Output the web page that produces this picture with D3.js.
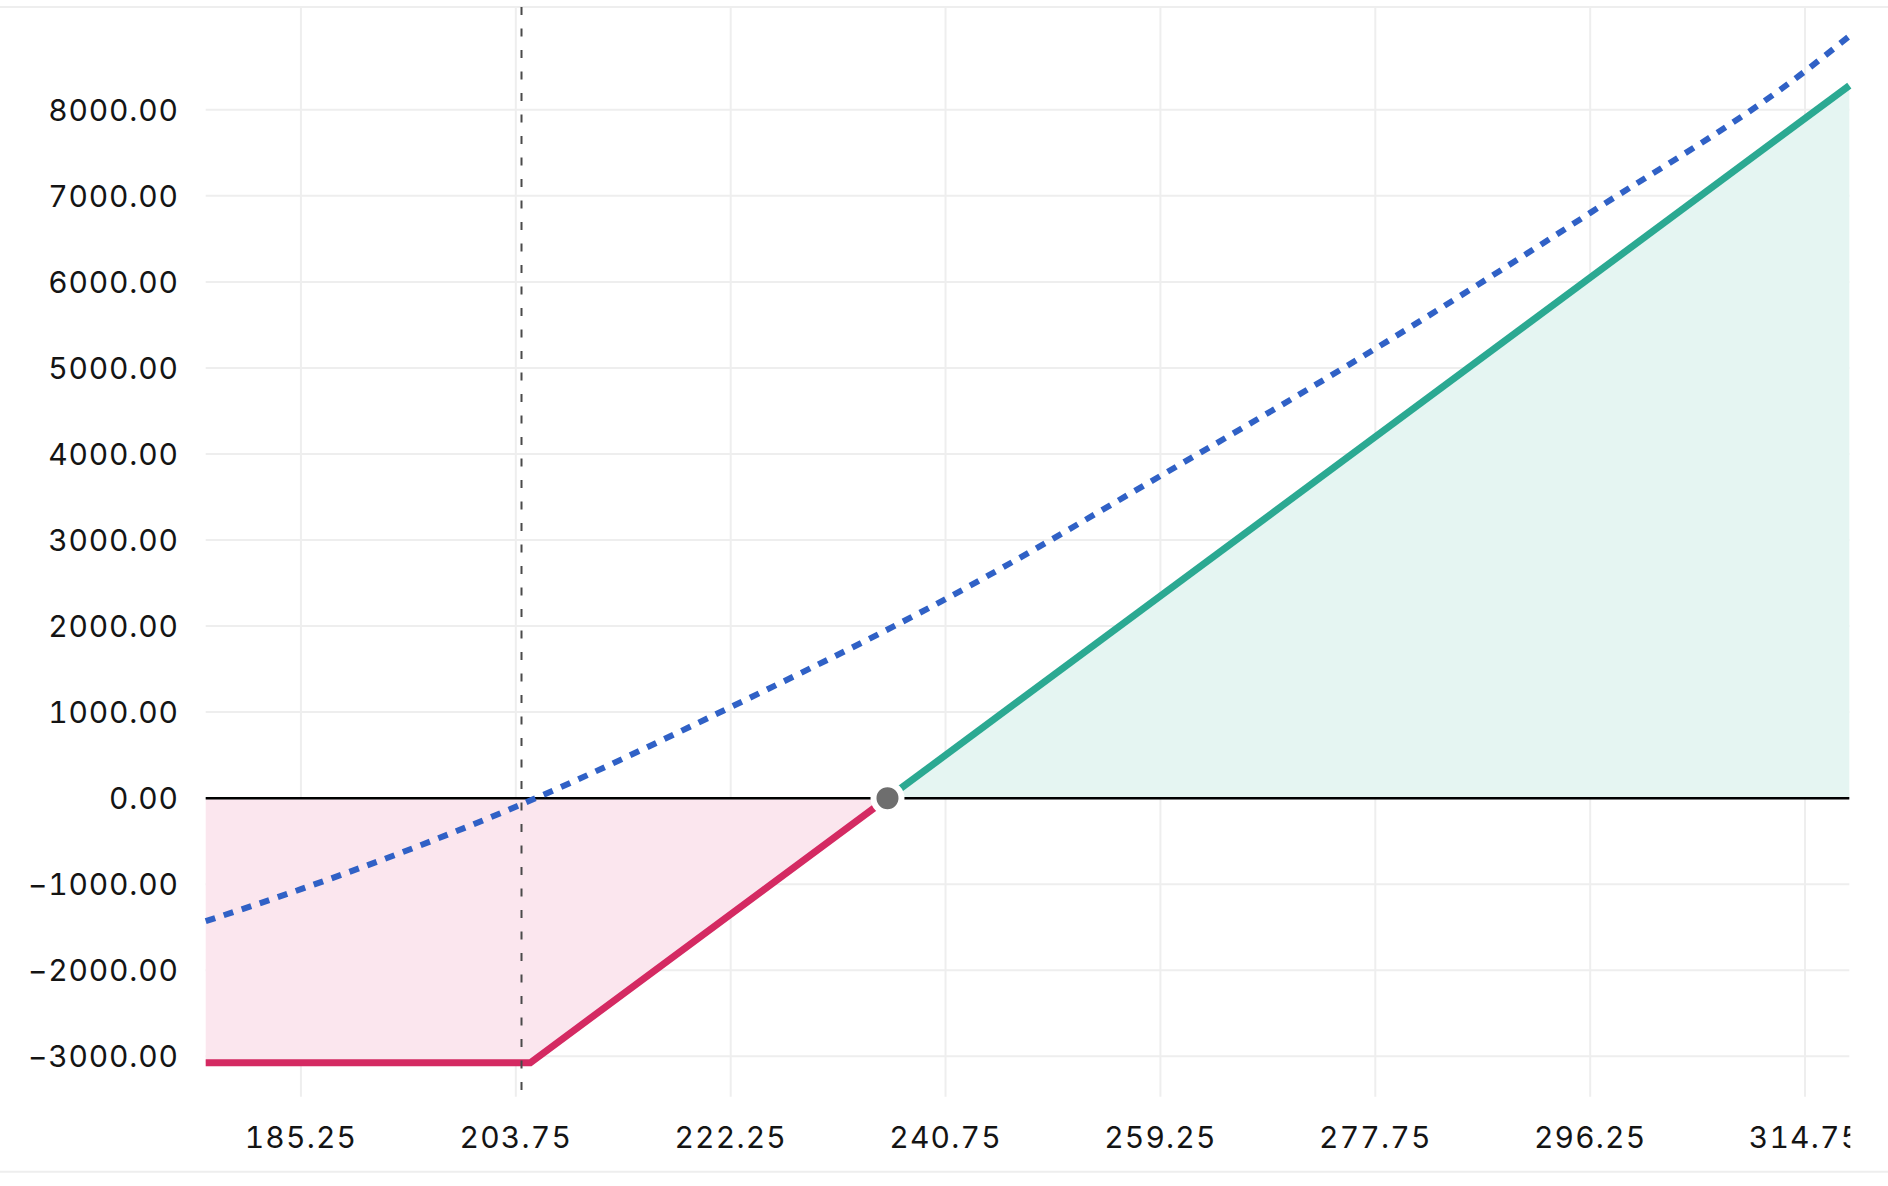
<!DOCTYPE html>
<html>
<head>
<meta charset="utf-8">
<script src="https://cdn.jsdelivr.net/npm/d3@7"></script>
<style>
  html, body { margin: 0; padding: 0; background: #fff; }
  #wrapper { width: 1888px; height: 1186px; }
  text { font-variant-numeric: tabular-nums; }
</style>
</head>
<body>
<div id="wrapper"></div>
<script>
// tick values shown on the axes
const xTicks = [185.25, 203.75, 222.25, 240.75, 259.25, 277.75, 296.25, 314.75]
const yTicks = [-3000, -2000, -1000, 0, 1000, 2000, 3000, 4000, 5000, 6000, 7000, 8000]

// P&L at expiration
const expiryPrices = [177.05, 205, 235.75, 318.56]
const expiryPnl = [-3075, -3075, 0, 8281]

// theoretical P&L today (dashed blue line)
const theoPrices = [177.05, 185.25, 203.75, 222.25, 240.75, 259.25, 277.75, 296.25, 314.75, 318.56]
const theoPnl = [-1430, -1058, -100, 1058, 2314, 3745, 5224, 6802, 8449, 8856]

const currentPrice = 204.24
const breakEven = 235.75

const xDomain = [177.05, 318.56]
const yDomain = [-3470, 9195]

function draw() {
  const dimensions = {
    width: 1888,
    height: 1186,
    margin: { top: 7, right: 38.7, bottom: 89.3, left: 205.7 }
  }
  dimensions.boundedWidth = dimensions.width - dimensions.margin.left - dimensions.margin.right
  dimensions.boundedHeight = dimensions.height - dimensions.margin.top - dimensions.margin.bottom

  const wrapper = d3.select('#wrapper')
    .append('svg')
    .attr('width', dimensions.width)
    .attr('height', dimensions.height)
    .style('font-family', 'Inter, "Open Sans", sans-serif')

  wrapper.append('rect')
    .attr('width', dimensions.width)
    .attr('height', dimensions.height)
    .attr('fill', '#fff')

  // container borders
  wrapper.append('line')
    .attr('x1', 0).attr('x2', dimensions.width)
    .attr('y1', 7).attr('y2', 7)
    .attr('stroke', '#eeeeee').attr('stroke-width', 2)
  wrapper.append('line')
    .attr('x1', 0).attr('x2', dimensions.width)
    .attr('y1', 1171.7).attr('y2', 1171.7)
    .attr('stroke', '#eeeeee').attr('stroke-width', 2)

  const bounds = wrapper.append('g')
    .attr('transform', `translate(${dimensions.margin.left}, ${dimensions.margin.top})`)

  const xScale = d3.scaleLinear()
    .domain(xDomain)
    .range([0, dimensions.boundedWidth])
  const yScale = d3.scaleLinear()
    .domain(yDomain)
    .range([dimensions.boundedHeight, 0])

  // grid
  bounds.append('g')
    .selectAll('line')
    .data(yTicks)
    .join('line')
    .attr('x1', 0)
    .attr('x2', dimensions.boundedWidth)
    .attr('y1', d => yScale(d))
    .attr('y2', d => yScale(d))
    .attr('stroke', '#eeeeee')
    .attr('stroke-width', 2)

  bounds.append('g')
    .selectAll('line')
    .data(xTicks)
    .join('line')
    .attr('x1', d => xScale(d))
    .attr('x2', d => xScale(d))
    .attr('y1', 0)
    .attr('y2', dimensions.boundedHeight)
    .attr('stroke', '#eeeeee')
    .attr('stroke-width', 2)

  const expiry = expiryPrices.map((p, i) => ({ x: p, y: expiryPnl[i] }))
  const lossPart = expiry.filter(d => d.x <= breakEven)
  const gainPart = expiry.filter(d => d.x >= breakEven)

  const area = d3.area()
    .x(d => xScale(d.x))
    .y0(yScale(0))
    .y1(d => yScale(d.y))

  bounds.append('path')
    .datum(lossPart)
    .attr('d', area)
    .attr('fill', '#fbe6ee')
  bounds.append('path')
    .datum(gainPart)
    .attr('d', area)
    .attr('fill', '#e5f5f2')

  // zero line
  bounds.append('line')
    .attr('x1', 0)
    .attr('x2', dimensions.boundedWidth)
    .attr('y1', yScale(0))
    .attr('y2', yScale(0))
    .attr('stroke', '#000')
    .attr('stroke-width', 2.5)

  // theoretical value line
  const theo = theoPrices.map((p, i) => ({ x: p, y: theoPnl[i] }))
  bounds.append('path')
    .datum(theo)
    .attr('d', d3.line()
      .x(d => xScale(d.x))
      .y(d => yScale(d.y))
      .curve(d3.curveMonotoneX))
    .attr('fill', 'none')
    .attr('stroke', '#3061c6')
    .attr('stroke-width', 6)
    .attr('stroke-dasharray', '10,9')

  const line = d3.line()
    .x(d => xScale(d.x))
    .y(d => yScale(d.y))

  bounds.append('path')
    .datum(lossPart)
    .attr('d', line)
    .attr('fill', 'none')
    .attr('stroke', '#d42a62')
    .attr('stroke-width', 7)
  bounds.append('path')
    .datum(gainPart)
    .attr('d', line)
    .attr('fill', 'none')
    .attr('stroke', '#2ba992')
    .attr('stroke-width', 7)

  // current price marker
  bounds.append('line')
    .attr('x1', xScale(currentPrice))
    .attr('x2', xScale(currentPrice))
    .attr('y1', 0)
    .attr('y2', dimensions.boundedHeight)
    .attr('stroke', '#4a4a4a')
    .attr('stroke-width', 2)
    .attr('stroke-dasharray', '8,13.5')

  // break-even dot
  bounds.append('circle')
    .attr('cx', xScale(breakEven))
    .attr('cy', yScale(0))
    .attr('r', 14)
    .attr('fill', '#6e6e6e')
    .attr('stroke', '#fff')
    .attr('stroke-width', 6)

  // y labels
  bounds.append('g')
    .selectAll('text')
    .data(yTicks)
    .join('text')
    .attr('x', -27)
    .attr('y', d => yScale(d))
    .attr('dy', '0.36em')
    .attr('text-anchor', 'end')
    .attr('fill', '#141414')
    .style('font-size', '30px')
    .style('letter-spacing', '0.8px')
    .text(d => d3.format('.2f')(d).replace('-', '\u2212'))

  // x labels, clipped at the plot's right edge
  wrapper.append('defs')
    .append('clipPath')
    .attr('id', 'xclip')
    .append('rect')
    .attr('x', -dimensions.margin.left)
    .attr('y', dimensions.boundedHeight)
    .attr('width', dimensions.margin.left + dimensions.boundedWidth + 1)
    .attr('height', 80)

  bounds.append('g')
    .attr('clip-path', 'url(#xclip)')
    .selectAll('text')
    .data(xTicks)
    .join('text')
    .attr('x', d => xScale(d))
    .attr('y', 1137 - dimensions.margin.top)
    .attr('dy', '0.36em')
    .attr('text-anchor', 'middle')
    .attr('fill', '#141414')
    .style('font-size', '30px')
    .style('letter-spacing', '1.2px')
    .text(d => d3.format('.2f')(d))
}

draw()
</script>
</body>
</html>
